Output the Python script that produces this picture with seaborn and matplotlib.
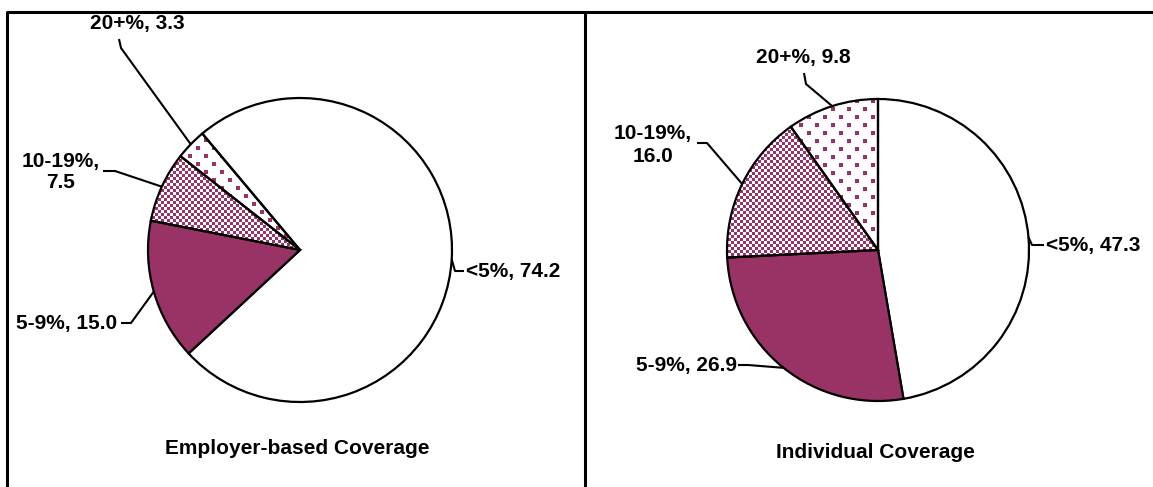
import numpy as np
import matplotlib
matplotlib.use("Agg")
import matplotlib.pyplot as plt
import seaborn as sns

# Datos
categories = ["<5%", "5-9%", "10-19%", "20+%"]
employer_values = [74.2, 15.0, 7.5, 3.3]
individual_values = [47.3, 26.9, 16.0, 9.8]
titles = ["Employer-based Coverage", "Individual Coverage"]

sns.set_style("white")
plt.rcParams["font.family"] = ["Liberation Sans", "DejaVu Sans"]
plt.rcParams["text.color"] = "black"

PURPLE = "#993366"
W, H = 1153, 487


def Y(y):
    # coordenadas de imagen (y hacia abajo) -> datos
    return H - y


def pattern(kind, size):
    i, j = np.mgrid[0:size, 0:size]
    if kind == "checker":
        mask = ((i // 3 + j // 3) % 2) == 0
    else:
        mask = ((i % 16 < 4) & (j % 16 < 4)) | (((i - 8) % 16 < 4) & ((j - 8) % 16 < 4))
    img = np.zeros((size, size, 4))
    img[mask, :3] = matplotlib.colors.to_rgb(PURPLE)
    img[mask, 3] = 1
    return img


fig = plt.figure(figsize=(W / 100, H / 100), dpi=100)
ax = fig.add_axes([0, 0, 1, 1])

pies = [
    dict(values=employer_values, center=(300, Y(250)), radius=152, start=130, title=titles[0],
         title_pos=(297, 448),
         labels=[
             # texto, posicion, alineacion, puntos del conector (imagen)
             ("<5%, 74.2", (466, 271), "left", [(455, 271), (464, 271)]),
             ("5-9%, 15.0", (67, 323), "center", [(131, 323), (121, 323)]),
             ("10-19%,\n7.5", (61, 172), "center", [(115, 171), (103, 171)]),
             ("20+%, 3.3", (137, 23), "center", [(121, 48), (119, 39)]),
         ]),
    dict(values=individual_values, center=(878, Y(250)), radius=151, start=90, title=titles[1],
         title_pos=(875, 453),
         labels=[
             ("<5%, 47.3", (1046, 245), "left", [(1032, 245), (1044, 245)]),
             ("5-9%, 26.9", (687, 365), "center", [(748, 365), (738, 365)]),
             ("10-19%,\n16.0", (653, 145), "center", [(707, 143), (697, 143)]),
             ("20+%, 9.8", (803, 57), "center", [(806, 84), (804, 73)]),
         ]),
]

for p in pies:
    cx, cy = p["center"]
    r = p["radius"]
    wedges, _ = ax.pie(p["values"], startangle=p["start"], counterclock=False,
                       center=(cx, cy), radius=r,
                       colors=["white", PURPLE, "none", "none"],
                       wedgeprops=dict(edgecolor="black", linewidth=1.6))
    # tramas: cuadriculado (10-19%) y puntos (20+%)
    for w, kind in [(wedges[2], "checker"), (wedges[3], "dots")]:
        size = 2 * (r + 8)
        im = ax.imshow(pattern(kind, size),
                       extent=(cx - size / 2, cx + size / 2, cy - size / 2, cy + size / 2),
                       interpolation="nearest", zorder=0.5)
        im.set_clip_path(w)
    for w, (txt, pos, ha, pts) in zip(wedges, p["labels"]):
        mid = np.deg2rad((w.theta1 + w.theta2) / 2)
        ex, ey = cx + r * np.cos(mid), cy + r * np.sin(mid)
        xs = [ex] + [q[0] for q in pts]
        ys = [ey] + [Y(q[1]) for q in pts]
        ax.plot(xs, ys, color="black", lw=1.5, solid_capstyle="butt")
        ax.text(pos[0], Y(pos[1]), txt, ha=ha, va="center", multialignment="center",
                fontsize=15, fontweight="bold", linespacing=1.2, color="black")
    ax.text(p["title_pos"][0], Y(p["title_pos"][1]), p["title"], ha="center", va="center",
            fontsize=15, fontweight="bold", color="black")

# marcos de los paneles
ax.plot([7, W], [Y(12), Y(12)], color="black", lw=2.2, solid_capstyle="butt")
ax.plot([7, 7], [Y(12), 0], color="black", lw=2.2)
ax.plot([585, 585], [Y(12), 0], color="black", lw=2.2)

ax.set_xlim(0, W)
ax.set_ylim(0, H)
ax.set_aspect("auto")
ax.axis("off")

fig.savefig("out.png", dpi=100)
